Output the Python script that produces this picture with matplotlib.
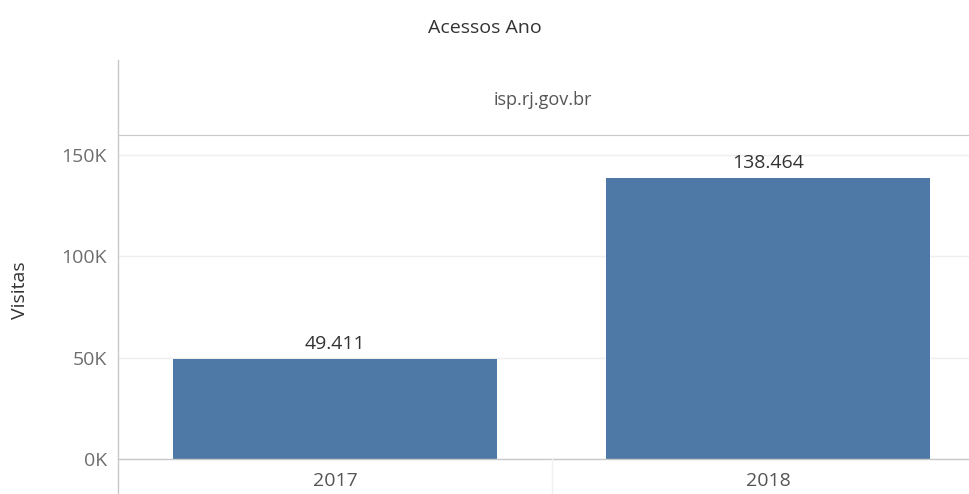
import matplotlib.pyplot as plt
from matplotlib.ticker import FuncFormatter
from matplotlib.lines import Line2D

# data
anos = ["2017", "2018"]
visitas = [49411, 138464]
yticks = [0, 50000, 100000, 150000]

plt.rcParams["font.family"] = ["Open Sans", "DejaVu Sans"]

fig = plt.figure(figsize=(9.69, 4.94), dpi=100)
ax = fig.add_axes([118 / 969, 35 / 494, 1 - 118 / 969, 324 / 494])

x = range(len(anos))
ax.bar(x, visitas, width=0.748, color="#4e79a7", zorder=3)

for xi, v in zip(x, visitas):
    txt = "{:,}".format(v).replace(",", ".")
    ax.text(xi, v + 3000, txt, ha="center", va="bottom", fontsize=14, color="#333333")

ax.set_xlim(-0.501, 1.464)
ax.set_ylim(0, 159900)
ax.set_yticks(yticks)
ax.yaxis.set_major_formatter(FuncFormatter(lambda v, p: "{:.0f}K".format(v / 1000)))
ax.set_xticks(list(x))
ax.set_xticklabels(anos)
ax.tick_params(axis="y", length=0, pad=8, labelsize=14, labelcolor="#6e6e6e")
ax.tick_params(axis="x", length=0, pad=9, labelsize=14, labelcolor="#555555")

ax.grid(axis="y", color="#efefef", linewidth=1, zorder=0)
for s in ["left", "right", "bottom"]:
    ax.spines[s].set_visible(False)
ax.spines["top"].set_color("#c8c8c8")
ax.axhline(0, color="#c8c8c8", linewidth=1, zorder=4, clip_on=False)

# left axis line runs the whole height of the pane
fig.add_artist(Line2D([118 / 969, 118 / 969], [0, 1 - 60 / 494],
                      transform=fig.transFigure, color="#c8c8c8", linewidth=1))
# faint divider between categories under the zero line
fig.add_artist(Line2D([552 / 969, 552 / 969], [0, 35 / 494],
                      transform=fig.transFigure, color="#f0f0f0", linewidth=1))

ax.set_ylabel("Visitas", fontsize=14, color="#333333")
ax.yaxis.set_label_coords(-0.104, 0.52)

fig.text(543 / 969, 1 - 100 / 494, "isp.rj.gov.br", ha="center", va="center",
         fontsize=13, color="#555555")
fig.text(485 / 969, 1 - 28 / 494, "Acessos Ano", ha="center", va="center",
         fontsize=14, color="#333333")

fig.savefig("out.png", dpi=100)
